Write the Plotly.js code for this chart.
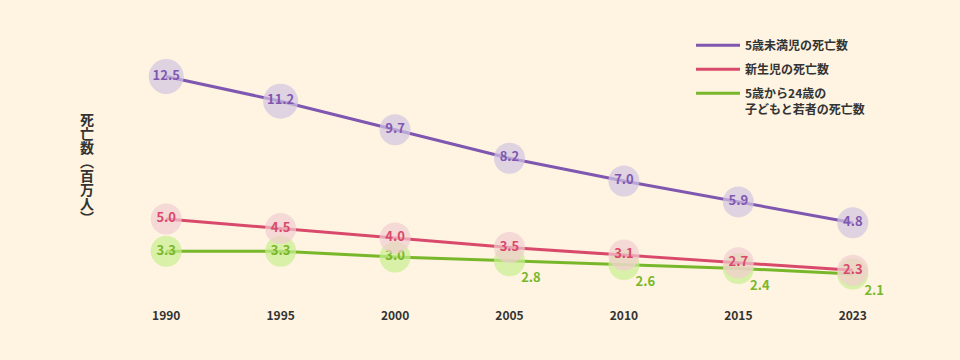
<!DOCTYPE html>
<html>
<head>
<meta charset="utf-8">
<script src="https://cdn.plot.ly/plotly-3.0.1.min.js"></script>
<style>
html,body{margin:0;padding:0;background:#fef4e1;}
#wrap{position:relative;width:960px;height:360px;}
#chart{width:960px;height:360px;}
#ytitle{position:absolute;left:79px;top:113px;width:15px;writing-mode:vertical-rl;text-orientation:upright;
  font-family:"Noto Sans CJK JP","Noto Sans",sans-serif;font-size:14px;font-weight:bold;line-height:15px;color:#333333;
  white-space:nowrap;pointer-events:none;}
</style>
</head>
<body>
<div id="wrap">
<div id="chart"></div>
<div id="ytitle"></div>
</div>
<script>
// ---- data ----
const years = ['1990', '1995', '2000', '2005', '2010', '2015', '2023'];
const under5Deaths = [12.5, 11.2, 9.7, 8.2, 7.0, 5.9, 4.8];
const neonatalDeaths = [5.0, 4.5, 4.0, 3.5, 3.1, 2.7, 2.3];
const youthDeaths = [3.3, 3.3, 3.0, 2.8, 2.6, 2.4, 2.1];
const seriesNames = ['5歳未満児の死亡数', '新生児の死亡数', '5歳から24歳の<br>子どもと若者の死亡数'];
const yTitle = '死亡数（百万人）';

// ---- styles ----
const FONT = '"Noto Sans CJK JP", "Noto Sans", sans-serif';
const BG = '#fef4e1';
const M = {l: 109, r: 50, t: 48, b: 57};
const W = 960, H = 360;
const pw = W - M.l - M.r, ph = H - M.t - M.b;
const pxX = px => (px - M.l) / pw;
const pxY = py => 1 - (py - M.t) / ph;

const fmt = v => v.toFixed(1);
const sizeFor = arr => arr.map(v => fmt(v).length > 3 ? 35 : 31);
// youth labels drawn outside the circle (below right) where they meet the neonatal circles
const youthLabelOutside = [false, false, false, true, true, true, true];

const colors = {
  u5: {line: '#7f57b1', marker: '#d1c5e1'},
  neo: {line: '#d9496b', marker: '#f1cdd1'},
  youth: {line: '#79b72a', marker: '#c9ee90'}
};

function lineTrace(vals, name, c, group, rank) {
  return {
    type: 'scatter', mode: 'lines', x: years, y: vals, name: name,
    legendgroup: group, legendrank: rank, showlegend: true,
    line: {color: c.line, width: 3}, cliponaxis: false, hoverinfo: 'skip'
  };
}
function markerTrace(vals, labels, c, group) {
  return {
    type: 'scatter', mode: 'markers+text', x: years, y: vals,
    legendgroup: group, showlegend: false,
    text: labels, textposition: 'middle center',
    textfont: {family: FONT, size: 13, color: c.line, weight: 'bold'},
    marker: {size: sizeFor(vals), color: c.marker, line: {width: 0}},
    cliponaxis: false, hoverinfo: 'skip'
  };
}

const youthInside = youthDeaths.map((v, i) => youthLabelOutside[i] ? '' : fmt(v));
const youthOutside = youthDeaths.map((v, i) => youthLabelOutside[i] ? fmt(v) : '');

const data = [
  lineTrace(youthDeaths, seriesNames[2], colors.youth, 'g3', 3),
  markerTrace(youthDeaths, youthInside, colors.youth, 'g3'),
  {
    type: 'scatter', mode: 'markers+text', x: years, y: youthDeaths,
    legendgroup: 'g3', showlegend: false,
    text: youthOutside, textposition: 'bottom right',
    textfont: {family: FONT, size: 13, color: colors.youth.line, weight: 'bold'},
    marker: {size: 17, opacity: 0, color: colors.youth.line},
    cliponaxis: false, hoverinfo: 'skip'
  },
  lineTrace(neonatalDeaths, seriesNames[1], colors.neo, 'g2', 2),
  markerTrace(neonatalDeaths, neonatalDeaths.map(fmt), colors.neo, 'g2'),
  lineTrace(under5Deaths, seriesNames[0], colors.u5, 'g1', 1),
  markerTrace(under5Deaths, under5Deaths.map(fmt), colors.u5, 'g1')
];

const layout = {
  width: W, height: H, margin: M,
  paper_bgcolor: BG, plot_bgcolor: BG,
  showlegend: true,
  legend: {
    x: pxX(691), y: pxY(31), xanchor: 'left', yanchor: 'top',
    bgcolor: 'rgba(0,0,0,0)', traceorder: 'grouped', tracegroupgap: 5,
    itemwidth: 44,
    valign: 'top', font: {family: FONT, size: 12, color: '#333333', weight: 'bold'}
  },
  xaxis: {
    type: 'category', range: [-0.5, 6.5], showgrid: false, zeroline: false, showline: false,
    ticks: '', ticklabelstandoff: 4,
    tickfont: {family: FONT, size: 12, color: '#333333', weight: 'bold'}, fixedrange: true
  },
  yaxis: {
    range: [0.58, 14], showgrid: false, zeroline: false, showline: false,
    showticklabels: false, ticks: '', fixedrange: true
  }
};

// vertical (tategaki) axis title, typeset upright like the original
document.getElementById('ytitle').textContent = yTitle;

Plotly.newPlot('chart', data, layout, {displayModeBar: false, staticPlot: true});
</script>
</body>
</html>
